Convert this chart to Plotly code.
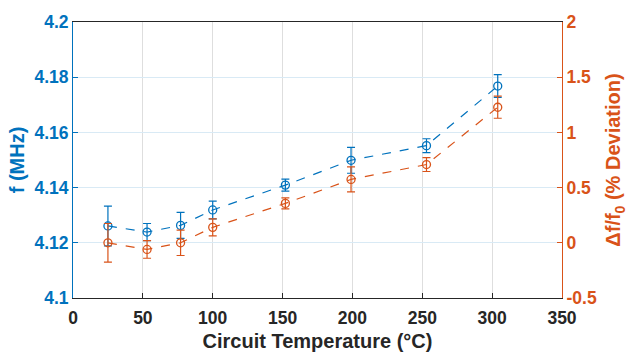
import plotly.graph_objects as go

temp = [25, 53, 77, 100, 152, 199, 253, 304]
freq = [4.1261, 4.1239, 4.1263, 4.1319, 4.1409, 4.1499, 4.1552, 4.1768]
freq_err = [0.0072, 0.0031, 0.0047, 0.0032, 0.0022, 0.0047, 0.0025, 0.0041]
dev = [0.0, -0.06, 0.0, 0.14, 0.357, 0.574, 0.709, 1.228]
dev_err = [0.175, 0.08, 0.115, 0.077, 0.05, 0.113, 0.063, 0.1]

x_ticks = [0, 50, 100, 150, 200, 250, 300, 350]
f_ticks = [4.1, 4.12, 4.14, 4.16, 4.18, 4.2]
f_labels = ["4.1", "4.12", "4.14", "4.16", "4.18", "4.2"]
d_ticks = [-0.5, 0, 0.5, 1, 1.5, 2]
d_labels = ["-0.5", "0", "0.5", "1", "1.5", "2"]

BLUE = "#0072BD"
ORANGE = "#D95319"
DARK = "#262626"
FONT = "Liberation Sans"
TICK = 17.5
TITLE = 20

fig = go.Figure()
fig.add_trace(go.Scatter(
    x=temp, y=freq, mode="lines+markers", yaxis="y",
    line=dict(color=BLUE, width=1.2, dash="dash"),
    marker=dict(symbol="circle-open", size=8, color=BLUE, line=dict(width=1.3)),
    error_y=dict(type="data", array=freq_err, color=BLUE, thickness=1.2, width=4),
    showlegend=False,
))
fig.add_trace(go.Scatter(
    x=temp, y=dev, mode="lines+markers", yaxis="y2",
    line=dict(color=ORANGE, width=1.2, dash="dash"),
    marker=dict(symbol="circle-open", size=8, color=ORANGE, line=dict(width=1.3)),
    error_y=dict(type="data", array=dev_err, color=ORANGE, thickness=1.2, width=4),
    showlegend=False,
))

fig.update_layout(
    width=633, height=360,
    margin=dict(l=73, r=70, t=15, b=61),
    paper_bgcolor="white", plot_bgcolor="white",
    font=dict(family=FONT, size=TICK, color=DARK),
    xaxis=dict(
        range=[0, 350], tickvals=x_ticks,
        showgrid=True, gridcolor="#DEDEDE", gridwidth=1,
        showline=True, linecolor=DARK, linewidth=1, mirror=True,
        ticks="inside", ticklen=5, tickcolor=DARK,
        ticklabelstandoff=4,
        tickfont=dict(family=FONT, size=TICK, color=DARK, weight="bold"),
        title=dict(text="<b>Circuit Temperature (°C)</b>", font=dict(family=FONT, size=TITLE, color=DARK), standoff=6),
        zeroline=False,
    ),
    yaxis=dict(
        range=[4.1, 4.2], tickvals=f_ticks, ticktext=f_labels,
        showgrid=True, gridcolor="#D9EAF5", gridwidth=1,
        showline=True, linecolor=BLUE, linewidth=1,
        ticks="inside", ticklen=5, tickcolor=BLUE,
        tickfont=dict(family=FONT, size=TICK, color=BLUE, weight="bold"),
        title=dict(text="<b>f (MHz)</b>", font=dict(family=FONT, size=TITLE, color=BLUE), standoff=4),
        zeroline=False,
    ),
    yaxis2=dict(
        range=[-0.5, 2], tickvals=d_ticks, ticktext=d_labels,
        overlaying="y", side="right",
        showgrid=False,
        showline=True, linecolor=ORANGE, linewidth=1,
        ticks="inside", ticklen=5, tickcolor=ORANGE,
        tickfont=dict(family=FONT, size=TICK, color=ORANGE, weight="bold"),
        title=dict(text="<b>Δf/f<sub>0</sub> (% Deviation)</b>", font=dict(family=FONT, size=TITLE, color=ORANGE), standoff=10),
        zeroline=False,
    ),
)

fig.write_html("out.html")
